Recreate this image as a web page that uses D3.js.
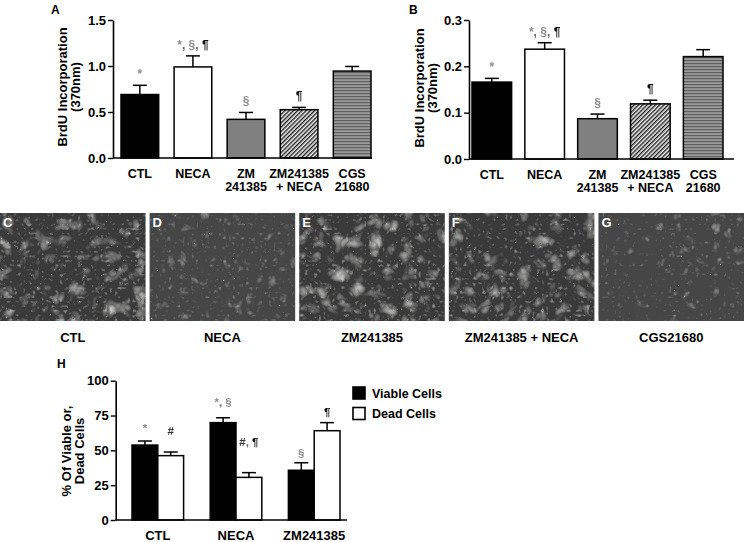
<!DOCTYPE html>
<html>
<head>
<meta charset="utf-8">
<script src="https://cdn.jsdelivr.net/npm/d3@7"></script>
<style>
  body { margin: 0; background: #fff; }
  svg text { font-family: "Liberation Sans", Arial, sans-serif; font-weight: bold; }
</style>
</head>
<body>
<div id="fig"></div>
<script>
// BrdU panels (A, B)
const treatments = ["CTL", "NECA", "ZM 241385", "ZM241385 + NECA", "CGS 21680"];
const treatmentLines = [["CTL"], ["NECA"], ["ZM", "241385"], ["ZM241385", "+ NECA"], ["CGS", "21680"]];
const brduA = [0.69, 0.99, 0.42, 0.525, 0.945];
const brduAErr = [0.10, 0.12, 0.075, 0.025, 0.05];
const brduB = [0.166, 0.237, 0.087, 0.119, 0.221];
const brduBErr = [0.008, 0.014, 0.010, 0.008, 0.015];
const brduMarks = ["*", "*, §, ¶", "§", "¶", ""];
const ticksA = [0, 0.5, 1.0, 1.5];
const ticksB = [0, 0.1, 0.2, 0.3];

// micrographs (C-G)
const photoLetters = ["C", "D", "E", "F", "G"];
const photoLabels = ["CTL", "NECA", "ZM241385", "ZM241385 + NECA", "CGS21680"];

// viability panel (H)
const viabilityGroups = ["CTL", "NECA", "ZM241385"];
const viable = [53.8, 69.9, 35.7];
const viableErr = [2.9, 3.5, 5.4];
const dead = [46.2, 30.6, 64.1];
const deadErr = [2.6, 3.4, 5.8];
const viableMarks = ["*", "*, §", "§"];
const deadMarks = ["#", "#, ¶", "¶"];
const viableMarkAt = [63, 82, 45];   // level of the mark, in % units
const deadMarkAt = [61, 53, 75];
const ticksH = [0, 25, 50, 75, 100];
const legendLabels = ["Viable Cells", "Dead Cells"];

const W = 744, H = 542;
const FS = 13;
const svg = d3.select("#fig").append("svg")
    .attr("width", W)
    .attr("height", H);

const defs = svg.append("defs");

// diagonal hatch for ZM241385 + NECA
const hatch = defs.append("pattern")
    .attr("id", "hatch")
    .attr("patternUnits", "userSpaceOnUse")
    .attr("width", 3).attr("height", 3)
    .attr("patternTransform", "rotate(45)");
hatch.append("rect").attr("width", 3).attr("height", 3).attr("fill", "#eee");
hatch.append("rect").attr("width", 1.4).attr("height", 3).attr("fill", "#222");

// horizontal stripes for CGS 21680
const stripes = defs.append("pattern")
    .attr("id", "stripes")
    .attr("patternUnits", "userSpaceOnUse")
    .attr("width", 4).attr("height", 3);
stripes.append("rect").attr("width", 4).attr("height", 3).attr("fill", "#9a9a9a");
stripes.append("rect").attr("width", 4).attr("height", 1.2).attr("fill", "#5e5e5e");

const fills = ["#000", "#fff", "#808080", "url(#hatch)", "url(#stripes)"];

const markColor = { "*": "#8c8c8c", "§": "#8c8c8c", "¶": "#111", "#": "#333", ",": "#666", " ": "#666" };

function drawMarks(sel, str, fs) {
    str.split("").forEach(ch => {
        sel.append("tspan").attr("fill", markColor[ch] || "#333").text(ch);
    });
    // opacity keeps the thin glyphs in greyscale antialiasing
    sel.attr("font-size", fs).attr("opacity", 0.99);
}

function styleAxis(ax) {
    ax.select(".domain").attr("stroke", "#000").attr("stroke-width", 1.6);
    ax.selectAll(".tick line").attr("stroke", "#000").attr("stroke-width", 1.4);
    ax.selectAll(".tick text")
        .attr("font-size", FS)
        .attr("font-family", "'Liberation Sans', Arial, sans-serif")
        .attr("font-weight", "bold")
        .attr("fill", "#000");
}

function brduPanel(cfg) {
    const g = svg.append("g");
    const y = d3.scaleLinear().domain([0, cfg.ticks[cfg.ticks.length - 1]]).range([cfg.y0, cfg.y1]);
    const x = d3.scaleBand().domain(treatments).range(cfg.barRange).paddingInner(cfg.pad).paddingOuter(0);

    // bars
    const bars = g.selectAll(".bar").data(treatments).enter().append("g");
    bars.append("line")
        .attr("x1", d => x(d) + x.bandwidth() / 2)
        .attr("x2", d => x(d) + x.bandwidth() / 2)
        .attr("y1", (d, i) => y(cfg.values[i]))
        .attr("y2", (d, i) => y(cfg.values[i] + cfg.errs[i]))
        .attr("stroke", "#000").attr("stroke-width", 1.5);
    bars.append("line")
        .attr("x1", d => x(d) + x.bandwidth() / 2 - 7)
        .attr("x2", d => x(d) + x.bandwidth() / 2 + 7)
        .attr("y1", (d, i) => y(cfg.values[i] + cfg.errs[i]))
        .attr("y2", (d, i) => y(cfg.values[i] + cfg.errs[i]))
        .attr("stroke", "#000").attr("stroke-width", 1.5);
    bars.append("rect")
        .attr("x", d => x(d))
        .attr("width", x.bandwidth())
        .attr("y", (d, i) => y(cfg.values[i]))
        .attr("height", (d, i) => cfg.y0 - y(cfg.values[i]))
        .attr("fill", (d, i) => fills[i])
        .attr("stroke", "#000").attr("stroke-width", 1.5);

    // significance marks
    bars.append("text")
        .attr("x", d => x(d) + x.bandwidth() / 2)
        .attr("y", (d, i) => y(cfg.values[i] + cfg.errs[i]) - 7)
        .attr("text-anchor", "middle")
        .each(function(d, i) { drawMarks(d3.select(this), brduMarks[i], 12); });

    // axes
    const ax = g.append("g")
        .attr("transform", `translate(${cfg.axisX},0)`)
        .call(d3.axisLeft(y).tickValues(cfg.ticks).tickFormat(d3.format(".1f")).tickSize(5).tickSizeOuter(0).tickPadding(2));
    styleAxis(ax);
    g.append("line")
        .attr("x1", cfg.axisX).attr("x2", cfg.axisEnd)
        .attr("y1", cfg.y0).attr("y2", cfg.y0)
        .attr("stroke", "#000").attr("stroke-width", 1.6);

    // category labels, one text per line
    treatments.forEach((d, i) => {
        treatmentLines[i].forEach((line, k) => {
            g.append("text")
                .attr("x", x(d) + x.bandwidth() / 2)
                .attr("y", cfg.y0 + 20 + k * 12.5)
                .attr("text-anchor", "middle")
                .attr("font-size", 12.5)
                .text(line);
        });
    });

    // axis title
    const t = g.append("text")
        .attr("transform", `translate(${cfg.titleX},${cfg.titleY}) rotate(-90)`)
        .attr("text-anchor", "middle")
        .attr("font-size", FS);
    t.append("tspan").attr("x", 0).attr("y", 0).text("BrdU Incorporation");
    t.append("tspan").attr("x", 0).attr("y", 13).text("(370nm)");

    g.append("text")
        .attr("x", cfg.letterX).attr("y", 14)
        .attr("font-size", 12)
        .text(cfg.letter);
}

brduPanel({
    letter: "A", letterX: 51,
    values: brduA, errs: brduAErr, ticks: ticksA,
    y0: 158, y1: 20, axisX: 113, axisEnd: 372,
    barRange: [121, 371], pad: 0.29,
    titleX: 67, titleY: 87
});

brduPanel({
    letter: "B", letterX: 409,
    values: brduB, errs: brduBErr, ticks: ticksB,
    y0: 159, y1: 20, axisX: 469, axisEnd: 734,
    barRange: [472, 723], pad: 0.25,
    titleX: 423.5, titleY: 88
});

// micrograph stand-ins
const photoX = d3.scaleBand().domain(photoLetters).range([0, 744]).paddingInner(0.027).paddingOuter(0);
const photoY0 = 213, photoH = 108;
const dense = [true, false, true, true, false];   // clustered growth vs. even monolayer

photoLetters.forEach((p, i) => {
    const f = defs.append("filter")
        .attr("id", "cells" + i)
        .attr("x", 0).attr("y", 0).attr("width", 1).attr("height", 1);
    // coarse clumps
    f.append("feTurbulence")
        .attr("type", "turbulence")
        .attr("baseFrequency", dense[i] ? 0.06 : 0.09)
        .attr("numOctaves", 2)
        .attr("seed", i * 7 + 3)
        .attr("result", "n");
    f.append("feColorMatrix")
        .attr("in", "n")
        .attr("type", "matrix")
        .attr("values", "0 0 0 0 0.9  0 0 0 0 0.9  0 0 0 0 0.88  " + (dense[i] ? "1.4" : "1.0") + " 0 0 0 -0.4")
        .attr("result", "clumps");
    // fine cell outlines
    f.append("feTurbulence")
        .attr("type", "turbulence")
        .attr("baseFrequency", 0.22)
        .attr("numOctaves", 1)
        .attr("seed", i * 5 + 11)
        .attr("result", "m");
    f.append("feColorMatrix")
        .attr("in", "m")
        .attr("type", "matrix")
        .attr("values", "0 0 0 0 0.85  0 0 0 0 0.85  0 0 0 0 0.85  " + (dense[i] ? "1.3" : "1.0") + " 0 0 0 -0.35")
        .attr("result", "fine");
    const mg = f.append("feMerge");
    mg.append("feMergeNode").attr("in", "fine");
    mg.append("feMergeNode").attr("in", "clumps");
});

const photos = svg.selectAll(".photo").data(photoLetters).enter().append("g");
photos.append("rect")
    .attr("x", d => photoX(d)).attr("y", photoY0)
    .attr("width", photoX.bandwidth()).attr("height", photoH)
    .attr("fill", (d, i) => dense[i] ? "#3a3a3a" : "#464646");
photos.append("rect")
    .attr("x", d => photoX(d)).attr("y", photoY0)
    .attr("width", photoX.bandwidth()).attr("height", photoH)
    .attr("fill", "#fff")
    .attr("filter", (d, i) => `url(#cells${i})`);
photos.append("text")
    .attr("x", d => photoX(d) + 3).attr("y", photoY0 + 14)
    .attr("fill", "#fff").attr("font-size", 13)
    .text(d => d);
photos.append("text")
    .attr("x", d => photoX(d) + photoX.bandwidth() / 2).attr("y", photoY0 + photoH + 21)
    .attr("text-anchor", "middle").attr("font-size", FS)
    .text((d, i) => photoLabels[i]);

// panel H
const hy0 = 520, hy1 = 380.7, hAxisX = 115.7, hAxisEnd = 347;
const yH = d3.scaleLinear().domain([0, 100]).range([hy0, hy1]);
const xH = d3.scaleBand().domain(viabilityGroups).range([132, 340]).paddingInner(0.34).paddingOuter(0);
const xSub = d3.scaleBand().domain(["viable", "dead"]).range([0, xH.bandwidth()]);
const gH = svg.append("g");

const series = [
    { key: "viable", vals: viable, errs: viableErr, marks: viableMarks, at: viableMarkAt, fill: "#000" },
    { key: "dead", vals: dead, errs: deadErr, marks: deadMarks, at: deadMarkAt, fill: "#fff" }
];

series.forEach(s => {
    const sg = gH.selectAll(".b-" + s.key).data(viabilityGroups).enter().append("g");
    const cx = d => xH(d) + xSub(s.key) + xSub.bandwidth() / 2;
    sg.append("line")
        .attr("x1", cx).attr("x2", cx)
        .attr("y1", (d, i) => yH(s.vals[i]))
        .attr("y2", (d, i) => yH(s.vals[i] + s.errs[i]))
        .attr("stroke", "#000").attr("stroke-width", 1.5);
    sg.append("line")
        .attr("x1", d => cx(d) - 7).attr("x2", d => cx(d) + 7)
        .attr("y1", (d, i) => yH(s.vals[i] + s.errs[i]))
        .attr("y2", (d, i) => yH(s.vals[i] + s.errs[i]))
        .attr("stroke", "#000").attr("stroke-width", 1.5);
    sg.append("rect")
        .attr("x", d => xH(d) + xSub(s.key))
        .attr("width", xSub.bandwidth())
        .attr("y", (d, i) => yH(s.vals[i]))
        .attr("height", (d, i) => hy0 - yH(s.vals[i]))
        .attr("fill", s.fill)
        .attr("stroke", "#000").attr("stroke-width", 1.5);
    sg.append("text")
        .attr("x", cx)
        .attr("y", (d, i) => yH(s.at[i]))
        .attr("text-anchor", "middle")
        .each(function(d, i) { drawMarks(d3.select(this), s.marks[i], 11.5); });
});

const axH = gH.append("g")
    .attr("transform", `translate(${hAxisX},0)`)
    .call(d3.axisLeft(yH).tickValues(ticksH).tickFormat(d3.format("d")).tickSize(5).tickSizeOuter(0).tickPadding(2));
styleAxis(axH);
gH.append("line")
    .attr("x1", hAxisX).attr("x2", hAxisEnd)
    .attr("y1", hy0).attr("y2", hy0)
    .attr("stroke", "#000").attr("stroke-width", 1.6);

gH.selectAll(".hcat").data(viabilityGroups).enter().append("text")
    .attr("x", d => xH(d) + xH.bandwidth() / 2)
    .attr("y", 539.5)
    .attr("text-anchor", "middle")
    .attr("font-size", FS)
    .text(d => d);

const tH = gH.append("text")
    .attr("transform", `translate(71,451) rotate(-90)`)
    .attr("text-anchor", "middle")
    .attr("font-size", FS);
tH.append("tspan").attr("x", 0).attr("y", 0).text("% Of Viable or,");
tH.append("tspan").attr("x", 0).attr("y", 12.5).text("Dead Cells");

gH.append("text").attr("x", 57).attr("y", 368).attr("font-size", 12).text("H");

// legend
const leg = gH.selectAll(".leg").data(legendLabels).enter().append("g")
    .attr("transform", (d, i) => `translate(353,${387 + i * 20.5})`);
leg.append("rect")
    .attr("width", 12).attr("height", 12)
    .attr("fill", (d, i) => series[i].fill)
    .attr("stroke", "#000").attr("stroke-width", 1.6);
leg.append("text")
    .attr("x", 19).attr("y", 10.5)
    .attr("font-size", 12.5)
    .text(d => d);
</script>
</body>
</html>
